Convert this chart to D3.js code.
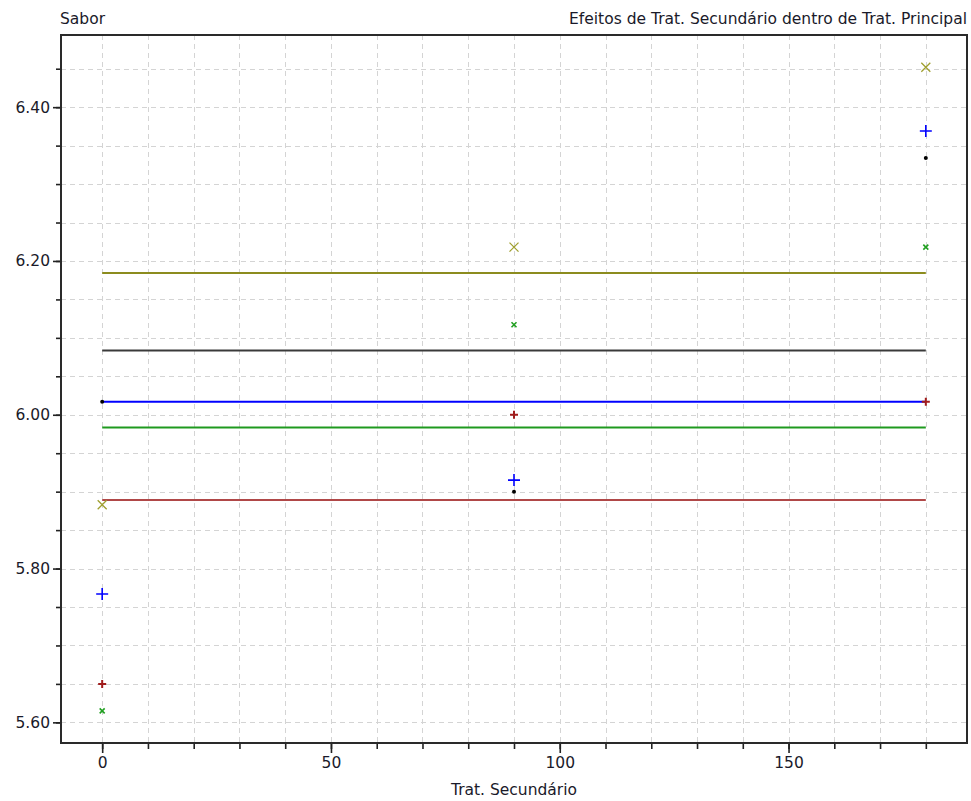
<!DOCTYPE html>
<html><head><meta charset="utf-8">
<script src="https://cdn.jsdelivr.net/npm/d3@7"></script>
<style>body{margin:0;background:#fff}svg{display:block}</style>
</head><body>
<script>
const xLevels = [0, 90, 180];
const seriesNames = ["A", "B", "C", "D", "E"];
const seriesBlue  = [5.767, 5.915, 6.369];
const seriesOlive = [5.883, 6.218, 6.452];
const seriesBlack = [6.017, 5.900, 6.334];
const seriesRed   = [5.650, 6.000, 6.017];
const seriesGreen = [5.615, 6.117, 6.218];
const yTickLabels = ["5.60", "5.80", "6.00", "6.20", "6.40"];
const xTickLabels = ["0", "50", "100", "150"];
const titleLeft = "Sabor";
const titleRight = "Efeitos de Trat. Secundário dentro de Trat. Principal";
const xTitle = "Trat. Secundário";

const series = [
  {name: seriesNames[0], values: seriesBlue,  line: "#0000ff", mark: "#0000ff", shape: "plus", size: 6, sw: 1.6},
  {name: seriesNames[1], values: seriesOlive, line: "#8c8c1e", mark: "#a0a030", shape: "cross", size: 4.5, sw: 1.3},
  {name: seriesNames[2], values: seriesBlack, line: "#3a3a3a", mark: "#000000", shape: "dot", size: 2, sw: 1},
  {name: seriesNames[3], values: seriesRed,   line: "#b04848", mark: "#a01c1c", shape: "plus", size: 4, sw: 2},
  {name: seriesNames[4], values: seriesGreen, line: "#1f9a1f", mark: "#22a022", shape: "cross", size: 2.5, sw: 1.6}
];

const W = 971, H = 801;
const m = {left: 61, top: 35, right: 4, bottom: 58};
const FONT = "'DejaVu Sans', sans-serif";
const svg = d3.select("body").append("svg").attr("width", W).attr("height", H)
  .style("font-family", FONT);

const xr = [d3.min(xLevels), d3.max(xLevels)];
const xpad = (xr[1] - xr[0]) * 0.05;
const allY = series.flatMap(s => s.values);
const yr = d3.extent(allY);
const ypad = (yr[1] - yr[0]) * 0.05;

const x = d3.scaleLinear().domain([xr[0] - xpad, xr[1] + xpad]).range([m.left, W - m.right]);
const y = d3.scaleLinear().domain([yr[0] - ypad, yr[1] + ypad]).range([H - m.bottom, m.top]);

const xMinor = d3.range(0, 181, 10);
const yMinor = d3.range(5.60, 6.4501, 0.05).map(v => +v.toFixed(2)).filter(v => v >= y.domain()[0] && v <= y.domain()[1]);

const grid = svg.append("g").attr("stroke", "#d4d4d4").attr("stroke-dasharray", "5,4").attr("stroke-width", 1);
grid.selectAll("line.v").data(xMinor).join("line")
  .attr("x1", d => Math.round(x(d)) + 0.5).attr("x2", d => Math.round(x(d)) + 0.5)
  .attr("y1", m.top).attr("y2", H - m.bottom);
grid.selectAll("line.h").data(yMinor).join("line")
  .attr("y1", d => Math.round(y(d)) + 0.5).attr("y2", d => Math.round(y(d)) + 0.5)
  .attr("x1", m.left).attr("x2", W - m.right);

// axes
const xAxisMajor = d3.axisBottom(x).tickValues(xTickLabels.map(Number)).tickFormat((d, i) => xTickLabels[i]).tickSize(10).tickSizeOuter(0).tickPadding(4);
const xAxisMinor = d3.axisBottom(x).tickValues(xMinor).tickFormat("").tickSize(6).tickSizeOuter(0);
const yAxisMajor = d3.axisLeft(y).tickValues(yTickLabels.map(Number)).tickFormat((d, i) => yTickLabels[i]).tickSize(8).tickSizeOuter(0).tickPadding(3);
const yAxisMinor = d3.axisLeft(y).tickValues(yMinor).tickFormat("").tickSize(5).tickSizeOuter(0);

function styleAxis(g) {
  g.select(".domain").remove();
  g.selectAll(".tick line").attr("stroke", "#222").attr("stroke-width", 1.6);
  g.selectAll("text").attr("fill", "#1a1a2a").style("font-family", FONT).style("font-size", "15.5px");
}
svg.append("g").attr("transform", `translate(0,${H - m.bottom})`).call(xAxisMinor).call(styleAxis);
svg.append("g").attr("transform", `translate(0,${H - m.bottom})`).call(xAxisMajor).call(styleAxis);
svg.append("g").attr("transform", `translate(${m.left},0)`).call(yAxisMinor).call(styleAxis);
svg.append("g").attr("transform", `translate(${m.left},0)`).call(yAxisMajor).call(styleAxis);

// frame
svg.append("rect").attr("x", m.left).attr("y", m.top)
  .attr("width", W - m.right - m.left).attr("height", H - m.bottom - m.top)
  .attr("fill", "none").attr("stroke", "#2a2a2a").attr("stroke-width", 2);

// mean lines
const lines = svg.append("g");
series.forEach(s => {
  const mean = d3.mean(s.values);
  lines.append("line")
    .attr("x1", x(xr[0])).attr("x2", x(xr[1]))
    .attr("y1", y(mean)).attr("y2", y(mean))
    .attr("stroke", s.line).attr("stroke-width", 2);
});

// markers
const marks = svg.append("g");
series.forEach(s => {
  s.values.forEach((v, i) => {
    const cx = x(xLevels[i]), cy = y(v), r = s.size;
    if (s.shape === "plus") {
      marks.append("path").attr("d", `M${cx - r},${cy}H${cx + r}M${cx},${cy - r}V${cy + r}`)
        .attr("stroke", s.mark).attr("stroke-width", s.sw).attr("fill", "none");
    } else if (s.shape === "cross") {
      marks.append("path").attr("d", `M${cx - r},${cy - r}L${cx + r},${cy + r}M${cx - r},${cy + r}L${cx + r},${cy - r}`)
        .attr("stroke", s.mark).attr("stroke-width", s.sw).attr("fill", "none");
    } else {
      marks.append("circle").attr("cx", cx).attr("cy", cy).attr("r", r).attr("fill", s.mark);
    }
  });
});

// titles
svg.append("text").attr("x", 60).attr("y", 24).text(titleLeft)
  .attr("fill", "#1a1a2a").style("font-size", "15.5px");
svg.append("text").attr("x", W - 4).attr("y", 24).attr("text-anchor", "end").text(titleRight)
  .attr("fill", "#1a1a2a").style("font-size", "15.5px");
svg.append("text").attr("x", (m.left + W - m.right) / 2).attr("y", 795).attr("text-anchor", "middle").text(xTitle)
  .attr("fill", "#1a1a2a").style("font-size", "15.5px");
</script>
</body></html>
